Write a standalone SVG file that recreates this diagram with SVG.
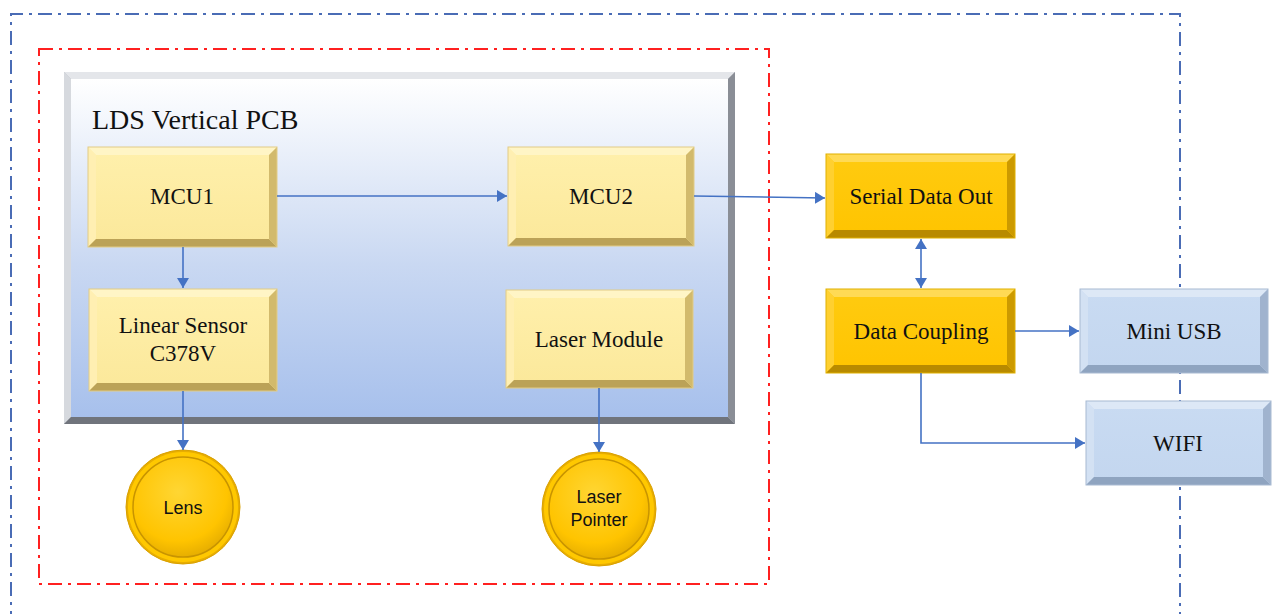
<svg xmlns="http://www.w3.org/2000/svg" width="1275" height="614" viewBox="0 0 1275 614">
<style>
.lbl{font-family:"Liberation Serif",serif;font-size:23px;fill:#111;text-anchor:middle;dominant-baseline:central}
.clbl{font-family:"Liberation Sans",Arial,sans-serif;font-size:18px;fill:#111;text-anchor:middle;dominant-baseline:central}
.conn{stroke:#4472C4;stroke-width:1.6;fill:none}
.y .face{fill:url(#gy)} .y .t{fill:#FFF5C6} .y .l{fill:#FFEFB2} .y .b{fill:#BBA257} .y .r{fill:#D2BA6C} .y .o{fill:none;stroke:#E2CC86;stroke-width:1}
.g .face{fill:url(#gg)} .g .t{fill:#FFDA55} .g .l{fill:#FFD030} .g .b{fill:#B88A00} .g .r{fill:#CC9A00} .g .o{fill:none;stroke:#E0B000;stroke-width:1}
.bl .face{fill:url(#gb)} .bl .t{fill:#DDE8F6} .bl .l{fill:#D3E1F3} .bl .b{fill:#8FA4C0} .bl .r{fill:#A0B3CE} .bl .o{fill:none;stroke:#A8BAD2;stroke-width:1}
</style>
<defs>
<linearGradient id="gy" x1="0" y1="0" x2="0" y2="1"><stop offset="0" stop-color="#FFF0AC"/><stop offset="1" stop-color="#FBE89A"/></linearGradient>
<linearGradient id="gg" x1="0" y1="0" x2="0" y2="1"><stop offset="0" stop-color="#FFCB10"/><stop offset="1" stop-color="#FFC400"/></linearGradient>
<linearGradient id="gb" x1="0" y1="0" x2="0" y2="1"><stop offset="0" stop-color="#C9DBF2"/><stop offset="1" stop-color="#C3D6EF"/></linearGradient>
<linearGradient id="gpcb" x1="0" y1="0" x2="0" y2="1"><stop offset="0" stop-color="#FFFFFF"/><stop offset="0.55" stop-color="#C9D8F2"/><stop offset="1" stop-color="#A7C0EC"/></linearGradient>
<radialGradient id="gc" cx="0.45" cy="0.35" r="0.7"><stop offset="0" stop-color="#FFD633"/><stop offset="0.7" stop-color="#FFC400"/><stop offset="1" stop-color="#E0A800"/></radialGradient>
<marker id="ah" viewBox="0 0 10 12" refX="10" refY="6" markerWidth="10" markerHeight="12" markerUnits="userSpaceOnUse" orient="auto-start-reverse"><path d="M0,0 L10,6 L0,12 z" fill="#4472C4"/></marker>
</defs>
<rect width="1275" height="614" fill="#FFFFFF"/>

<g id="outer-boundary">
<path d="M11,625 L11,14 L1180,14 L1180,625" fill="none" stroke="#4A6CB5" stroke-width="2" stroke-dasharray="14,6,3,6"/>
</g>
<g id="inner-boundary">
<rect x="39" y="49" width="730" height="535" fill="none" stroke="#FF2020" stroke-width="2" stroke-dasharray="14,6,3,6"/>
</g>

<g id="pcb">
<rect x="64" y="72" width="671" height="352" fill="#B8BCC4"/>
<polygon points="64,72 735,72 728,79 71,79" fill="#E4E6EA"/>
<polygon points="64,72 71,79 71,417 64,424" fill="#D6D9DE"/>
<polygon points="64,424 71,417 728,417 735,424" fill="#70747C"/>
<polygon points="735,72 735,424 728,417 728,79" fill="#8A8E96"/>
<rect x="71" y="79" width="657" height="338" fill="url(#gpcb)"/>
<text x="92" y="119" font-family="Liberation Serif,serif" font-size="28" fill="#111" dominant-baseline="central">LDS Vertical PCB</text>
</g>

<g id="mcu1" class="y">
<rect class="face" x="88" y="147" width="189" height="100"/>
<polygon class="t" points="88,147 277,147 269,155 96,155"/>
<polygon class="l" points="88,147 96,155 96,239 88,247"/>
<polygon class="b" points="88,247 96,239 269,239 277,247"/>
<polygon class="r" points="277,147 277,247 269,239 269,155"/>
<rect class="o" x="88" y="147" width="189" height="100"/>
<text class="lbl" x="182" y="196">MCU1</text>
</g>

<g id="mcu2" class="y">
<rect class="face" x="508" y="147" width="186" height="99"/>
<polygon class="t" points="508,147 694,147 686,155 516,155"/>
<polygon class="l" points="508,147 516,155 516,238 508,246"/>
<polygon class="b" points="508,246 516,238 686,238 694,246"/>
<polygon class="r" points="694,147 694,246 686,238 686,155"/>
<rect class="o" x="508" y="147" width="186" height="99"/>
<text class="lbl" x="601" y="196">MCU2</text>
</g>

<g id="linear-sensor" class="y">
<rect class="face" x="89" y="289" width="188" height="102"/>
<polygon class="t" points="89,289 277,289 269,297 97,297"/>
<polygon class="l" points="89,289 97,297 97,383 89,391"/>
<polygon class="b" points="89,391 97,383 269,383 277,391"/>
<polygon class="r" points="277,289 277,391 269,383 269,297"/>
<rect class="o" x="89" y="289" width="188" height="102"/>
<text class="lbl" x="183" y="325">Linear Sensor</text>
<text class="lbl" x="183" y="353">C378V</text>
</g>

<g id="laser-module" class="y">
<rect class="face" x="506" y="290" width="187" height="98"/>
<polygon class="t" points="506,290 693,290 685,298 514,298"/>
<polygon class="l" points="506,290 514,298 514,380 506,388"/>
<polygon class="b" points="506,388 514,380 685,380 693,388"/>
<polygon class="r" points="693,290 693,388 685,380 685,298"/>
<rect class="o" x="506" y="290" width="187" height="98"/>
<text class="lbl" x="599" y="339">Laser Module</text>
</g>

<g id="lens">
<circle cx="183" cy="507" r="57" fill="#E8AE00" stroke="#D9A000" stroke-width="1"/>
<circle cx="183" cy="507" r="55" fill="#FFC800"/>
<circle cx="183" cy="507" r="50" fill="url(#gc)" stroke="#C89400" stroke-width="1.5"/>
<text class="clbl" x="183" y="508">Lens</text>
</g>

<g id="laser-pointer">
<circle cx="599" cy="509" r="57" fill="#E8AE00" stroke="#D9A000" stroke-width="1"/>
<circle cx="599" cy="509" r="55" fill="#FFC800"/>
<circle cx="599" cy="509" r="50" fill="url(#gc)" stroke="#C89400" stroke-width="1.5"/>
<text class="clbl" x="599" y="497">Laser</text>
<text class="clbl" x="599" y="520">Pointer</text>
</g>

<g id="serial-data-out" class="g">
<rect class="face" x="826" y="154" width="189" height="84"/>
<polygon class="t" points="826,154 1015,154 1007,162 834,162"/>
<polygon class="l" points="826,154 834,162 834,230 826,238"/>
<polygon class="b" points="826,238 834,230 1007,230 1015,238"/>
<polygon class="r" points="1015,154 1015,238 1007,230 1007,162"/>
<rect class="o" x="826" y="154" width="189" height="84"/>
<text class="lbl" x="921" y="196">Serial Data Out</text>
</g>

<g id="data-coupling" class="g">
<rect class="face" x="826" y="289" width="189" height="84"/>
<polygon class="t" points="826,289 1015,289 1007,297 834,297"/>
<polygon class="l" points="826,289 834,297 834,365 826,373"/>
<polygon class="b" points="826,373 834,365 1007,365 1015,373"/>
<polygon class="r" points="1015,289 1015,373 1007,365 1007,297"/>
<rect class="o" x="826" y="289" width="189" height="84"/>
<text class="lbl" x="921" y="331">Data Coupling</text>
</g>

<g id="mini-usb" class="bl">
<rect class="face" x="1080" y="289" width="188" height="84"/>
<polygon class="t" points="1080,289 1268,289 1260,297 1088,297"/>
<polygon class="l" points="1080,289 1088,297 1088,365 1080,373"/>
<polygon class="b" points="1080,373 1088,365 1260,365 1268,373"/>
<polygon class="r" points="1268,289 1268,373 1260,365 1260,297"/>
<rect class="o" x="1080" y="289" width="188" height="84"/>
<text class="lbl" x="1174" y="331">Mini USB</text>
</g>

<g id="wifi" class="bl">
<rect class="face" x="1086" y="401" width="185" height="84"/>
<polygon class="t" points="1086,401 1271,401 1263,409 1094,409"/>
<polygon class="l" points="1086,401 1094,409 1094,477 1086,485"/>
<polygon class="b" points="1086,485 1094,477 1263,477 1271,485"/>
<polygon class="r" points="1271,401 1271,485 1263,477 1263,409"/>
<rect class="o" x="1086" y="401" width="185" height="84"/>
<text class="lbl" x="1178" y="443">WIFI</text>
</g>

<g id="connectors">
<line class="conn" x1="277" y1="196" x2="507" y2="196" marker-end="url(#ah)"/>
<line class="conn" x1="183" y1="247" x2="183" y2="288" marker-end="url(#ah)"/>
<line class="conn" x1="183" y1="391" x2="183" y2="450" marker-end="url(#ah)"/>
<line class="conn" x1="599" y1="388" x2="599" y2="452" marker-end="url(#ah)"/>
<line class="conn" x1="694" y1="196" x2="825" y2="198" marker-end="url(#ah)"/>
<line class="conn" x1="921" y1="239" x2="921" y2="288" marker-start="url(#ah)" marker-end="url(#ah)"/>
<line class="conn" x1="1015" y1="331" x2="1079" y2="331" marker-end="url(#ah)"/>
<polyline class="conn" points="921,373 921,443 1085,443" marker-end="url(#ah)"/>
</g>
</svg>
